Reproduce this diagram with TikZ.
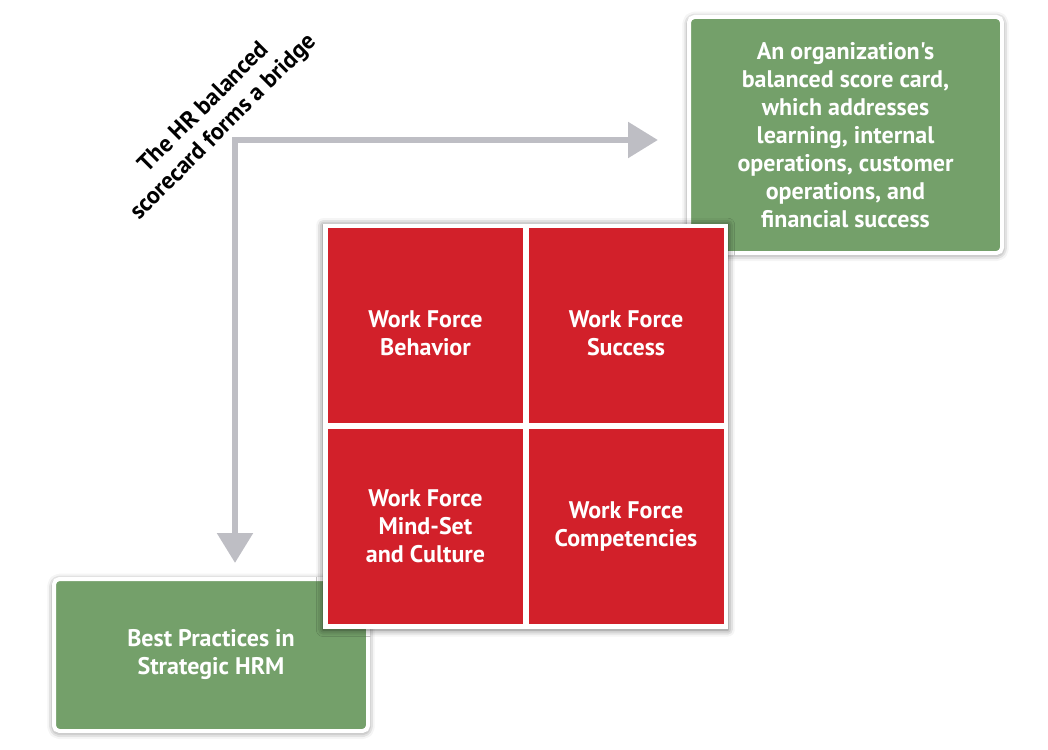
\documentclass[tikz,border=0pt]{standalone}
\usepackage{fontspec}
\setmainfont{PT Sans}[Ligatures=TeXOff]
\usepackage{tikz}
\usetikzlibrary{arrows.meta,positioning,shadows.blur}

\definecolor{hrgreen}{RGB}{116,160,106}
\definecolor{hrred}{RGB}{210,32,42}
\definecolor{hrgray}{RGB}{190,190,196}

\begin{document}
\begin{tikzpicture}[x=0.75pt, y=-0.75pt,
  every node/.style={font=\bfseries\fontsize{18}{21}\selectfont, align=center, text=white},
  gbox/.style={rectangle, fill=hrgreen, draw=white, line width=3pt, rounded corners=4pt,
               blur shadow={shadow xshift=0pt, shadow yshift=-1pt, shadow blur radius=5pt, shadow opacity=60}},
  gridframe/.style={rectangle, fill=white, minimum size=303.75pt, inner sep=0pt,
               blur shadow={shadow xshift=0pt, shadow yshift=-1pt, shadow blur radius=5pt, shadow opacity=60}},
  cell/.style={rectangle, fill=hrred, minimum size=146.25pt, inner sep=0pt},
  bridge/.style={draw=hrgray, line width=4.9pt,
               {Triangle[length=22.5pt,width=26pt]}-{Triangle[length=22.5pt,width=26pt]}},
  tnode/.style={text=black, rotate=45}]

\useasboundingbox (0,0) rectangle (1048,749);

% green end boxes
\node[gbox, minimum width=234.75pt, minimum height=177pt] (card) at (845.5,135)
  {An organization's\\balanced score card,\\which addresses\\learning, internal\\operations, customer\\operations, and\\financial success};
\node[gbox, minimum width=235.5pt, minimum height=114pt] (best) at (211,655)
  {Best Practices in\\Strategic HRM};

% the four work force cells
\node[gridframe] (grid) at (525.5,426) {};
\node[cell] (wfb) at (425.5,325.5) {\rule{0pt}{24pt}Work Force\\Behavior};
\node[cell, right=3.75pt of wfb] (wfs) {\rule{0pt}{24pt}Work Force\\Success};
\node[cell, below=3.75pt of wfb] (wfm) {Work Force\\Mind-Set\\and Culture};
\node[cell, right=3.75pt of wfm] (wfc) {Work Force\\Competencies};

% bridge arrow
\coordinate (bend) at (235,140);
\draw[bridge, shorten <=10.5pt, shorten >=21.75pt] (bend |- best.north) -- (bend) -- (bend -| card.west);

\node[tnode] (caption) at (214,118) {The HR balanced\\scorecard forms a bridge};

\end{tikzpicture}
\end{document}
